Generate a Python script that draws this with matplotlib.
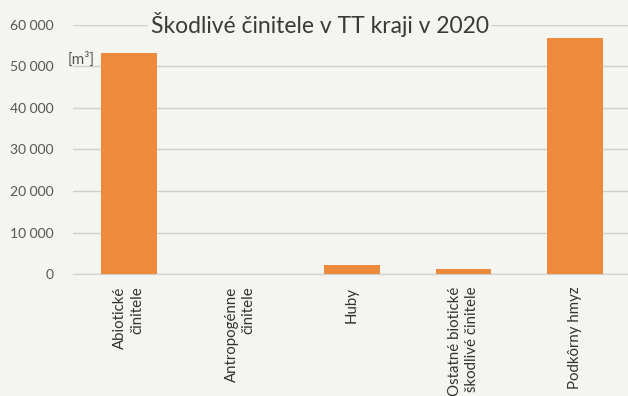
import matplotlib.pyplot as plt
import numpy as np

kategorie = ['Abiotické\nčinitele', 'Antropogénne\nčinitele', 'Huby',
             'Ostatné biotické\nškodlivé činitele', 'Podkôrny hmyz']
objem = [53300, 60, 2170, 1130, 56900]
yticks = [0, 10000, 20000, 30000, 40000, 50000, 60000]
ytick_labels = ['0', '10 000', '20 000', '30 000', '40 000', '50 000', '60 000']

plt.rcParams['font.family'] = ['Lato', 'DejaVu Sans']
pozadie = '#F4F4F1'

fig = plt.figure(figsize=(6.28, 3.96), dpi=100)
fig.patch.set_facecolor(pozadie)
ax = fig.add_axes([0.1162, 0.308, 0.8838, 0.629])
ax.set_facecolor(pozadie)

x = np.arange(len(kategorie))
ax.grid(axis='y', color='#CFCFCC', linewidth=1.0, zorder=0)
ax.bar(x, objem, 0.5, color='#EE8A3C', zorder=3)

ax.set_ylim(0, 60000)
ax.set_xlim(-0.5, 4.475)
ax.set_yticks(yticks)
ax.set_yticklabels(ytick_labels, fontsize=10, color='#555555')
ax.set_xticks(x)
ax.set_xticklabels(kategorie, rotation=90, fontsize=10.8, color='#333333',
                   multialignment='right', va='top', linespacing=1.25)
ax.tick_params(length=0, axis='y', pad=14)
ax.tick_params(length=0, axis='x', pad=9)
for s in ['top', 'right', 'left']:
    ax.spines[s].set_visible(False)
ax.spines['bottom'].set_color('#CFCFCC')

# nadpis prekryva hornu mriezku
ax.text(1.71, 60000, 'Škodlivé činitele v TT kraji v 2020', fontsize=16.5,
        color='#3A3A3A', va='center', ha='center', zorder=5,
        bbox=dict(facecolor=pozadie, edgecolor='none', pad=2))
ax.text(-0.55, 51700, '[m³]', fontsize=11, color='#555555', va='center', ha='left')

fig.savefig('out.png', dpi=100, facecolor=fig.get_facecolor())
